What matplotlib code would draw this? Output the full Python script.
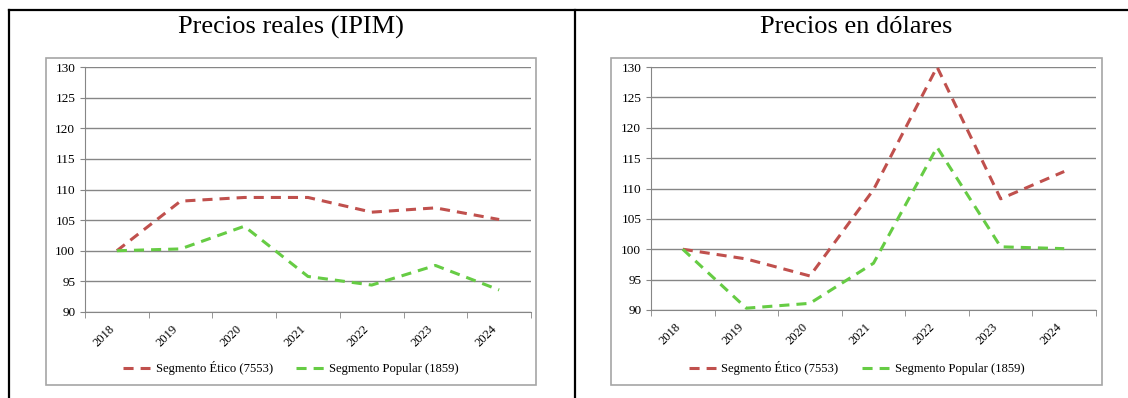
import matplotlib
matplotlib.use("Agg")
import matplotlib.pyplot as plt
from matplotlib.lines import Line2D
from matplotlib.patches import Rectangle

years = ["2018", "2019", "2020", "2021", "2022", "2023", "2024"]

# Precios reales (IPIM)
real_etico = [100, 108.1, 108.7, 108.7, 106.3, 107.0, 105.1]
real_popular = [100, 100.3, 104.0, 95.8, 94.4, 97.6, 93.6]

# Precios en dólares
usd_etico = [100, 98.4, 95.6, 109.8, 130.0, 108.3, 112.8]
usd_popular = [100, 90.3, 91.1, 97.7, 116.8, 100.4, 100.1]

titles = ["Precios reales (IPIM)", "Precios en dólares"]
labels = ["Segmento Ético (7553)", "Segmento Popular (1859)"]
RED = "#C0504D"
GREEN = "#66CC44"
GRID = "#868686"

W, H = 1128, 398
plt.rcParams["font.family"] = ["Liberation Serif", "DejaVu Serif"]
fig = plt.figure(figsize=(W / 100, H / 100), dpi=100)


def fbox(x0, y0, x1, y1):
    # pixel box (top-left origin) -> figure fraction [l, b, w, h]
    return [x0 / W, 1 - y1 / H, (x1 - x0) / W, (y1 - y0) / H]


# outer table lines
for xs, ys in [([9, 9], [10, H]), ([575, 575], [10, H]), ([9, W], [10, 10])]:
    fig.add_artist(Line2D([x / W for x in xs], [1 - y / H for y in ys],
                          color="black", lw=1.6))

panels = [
    dict(frame=(46, 58, 536, 385), axes=(85, 67, 531, 312), data=(real_etico, real_popular)),
    dict(frame=(611, 58, 1102, 385), axes=(651, 67, 1096, 310), data=(usd_etico, usd_popular)),
]

for i, p in enumerate(panels):
    fx0, fy0, fx1, fy1 = p["frame"]
    l, b, w, h = fbox(fx0, fy0, fx1, fy1)
    fig.add_artist(Rectangle((l, b), w, h, transform=fig.transFigure,
                             fill=False, edgecolor="#A6A6A6", lw=1.2))
    cx = (fx0 + fx1) / 2 / W
    fig.text(cx, 1 - 27 / H, titles[i], ha="center", va="center", fontsize=19)

    ax = fig.add_axes(fbox(*p["axes"]))
    x = range(len(years))
    etico, popular = p["data"]
    ax.plot(x, etico, color=RED, lw=2.2, dashes=(3.3, 2.3), label=labels[0])
    ax.plot(x, popular, color=GREEN, lw=2.2, dashes=(3.3, 2.3), label=labels[1])

    ax.set_xlim(-0.5, len(years) - 0.5)
    ax.set_ylim(90, 130)
    ax.set_yticks(range(90, 131, 5))
    ax.yaxis.grid(True, color=GRID, lw=1)
    ax.set_axisbelow(True)
    ax.set_xticks(list(x))
    ax.set_xticklabels(years, rotation=45, fontsize=9)
    ax.set_xticks([k - 0.5 for k in range(len(years) + 1)], minor=True)
    ax.tick_params(axis="x", which="major", length=0, pad=8)
    ax.tick_params(axis="x", which="minor", length=4, color=GRID)
    ax.tick_params(axis="y", length=3.5, color=GRID, labelsize=9.5, pad=3.5)
    for lab in ax.get_xticklabels():
        lab.set_ha("right")
        lab.set_va("top")
    for s in ["top", "right"]:
        ax.spines[s].set_visible(False)
    for s in ["left", "bottom"]:
        ax.spines[s].set_color(GRID)

    ax.legend(loc="center", bbox_to_anchor=(cx, 1 - 368 / H), bbox_transform=fig.transFigure,
              ncol=2, frameon=False, fontsize=9.1, handlelength=2.15, columnspacing=1.85,
              handletextpad=0.45)

fig.savefig("out.png", dpi=100)
